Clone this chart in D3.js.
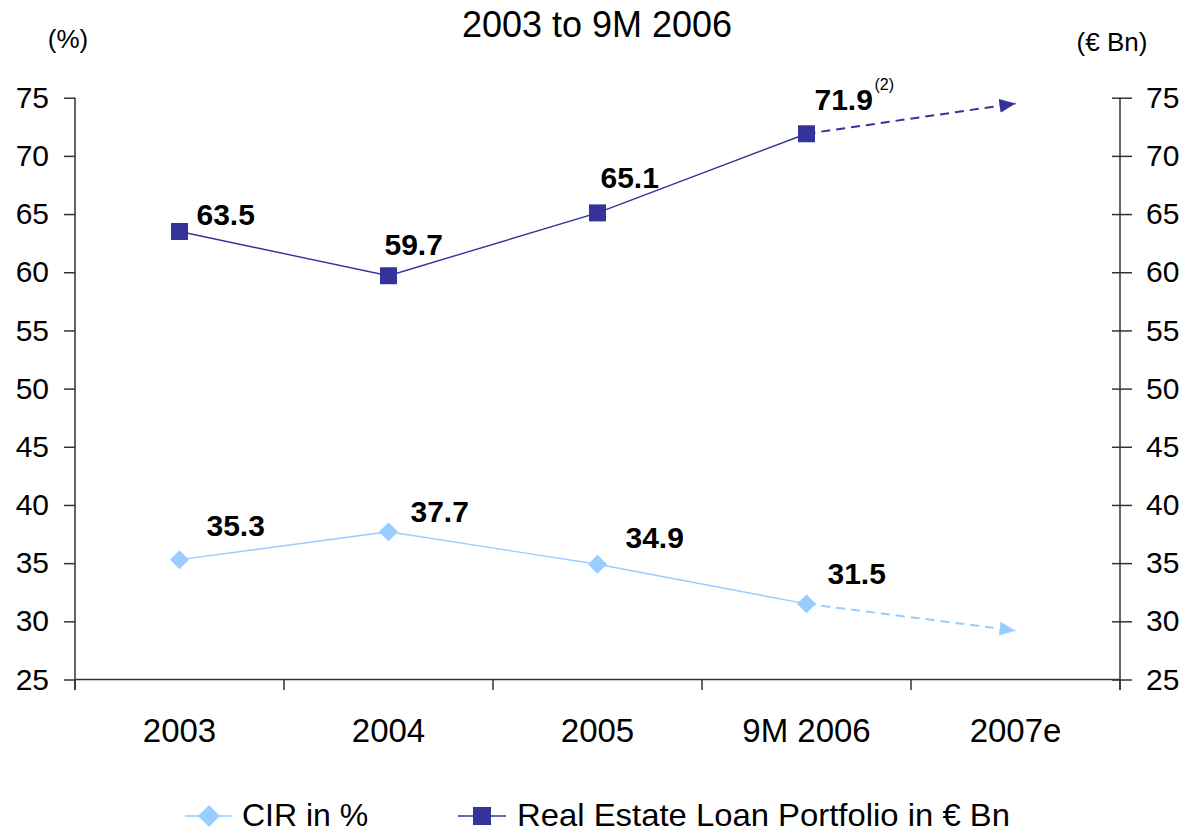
<!DOCTYPE html>
<html>
<head>
<meta charset="utf-8">
<script src="https://cdn.jsdelivr.net/npm/d3@7"></script>
<style>
  html, body { margin: 0; padding: 0; background: #fff; }
  svg { display: block; font-family: "Liberation Sans", Arial, sans-serif; }
</style>
</head>
<body>
<svg id="chart" width="1186" height="834"></svg>
<script>
// Categories along the x axis
const categories = ["2003", "2004", "2005", "9M 2006", "2007e"];
// Cost/income ratio (%), actuals
const cirValues = [35.3, 37.7, 34.9, 31.5];
// Real estate loan portfolio (EUR Bn), actuals
const loanValues = [63.5, 59.7, 65.1, 71.9];
// Outlook for 2007e (dashed arrows)
const cirOutlook = 29.2;
const loanOutlook = 74.5;
// Shared y tick values for both axes
const yTicks = [25, 30, 35, 40, 45, 50, 55, 60, 65, 70, 75];

const DARK = "#333399";
const LIGHT = "#99CCFF";
const AXIS = "#333333";

const svg = d3.select("#chart");

const x = d3.scaleBand().domain(categories).range([75, 1120]).paddingInner(0).paddingOuter(0);
const cx = c => x(c) + x.bandwidth() / 2;
const y = d3.scaleLinear().domain([25, 75]).range([679.5, 97.7]);

// Arrowheads
const defs = svg.append("defs");
[["arrowDark", DARK], ["arrowLight", LIGHT]].forEach(([id, col]) => {
  defs.append("marker")
    .attr("id", id)
    .attr("markerUnits", "userSpaceOnUse")
    .attr("viewBox", "0 0 16 14")
    .attr("refX", 16).attr("refY", 7)
    .attr("markerWidth", 16).attr("markerHeight", 14)
    .attr("orient", "auto")
    .append("path")
    .attr("d", "M0,0 L16,7 L0,14 Z")
    .attr("fill", col);
});

// Title and axis unit captions
svg.append("text").attr("x", 597).attr("y", 37).attr("text-anchor", "middle")
  .attr("font-size", 36).text("2003 to 9M 2006");
svg.append("text").attr("x", 68).attr("y", 48).attr("text-anchor", "middle")
  .attr("font-size", 26).text("(%)");
svg.append("text").attr("x", 1112).attr("y", 51).attr("text-anchor", "middle")
  .attr("font-size", 26).text("(€ Bn)");

// Left y axis
const leftAxis = svg.append("g").attr("transform", "translate(75,0)")
  .call(d3.axisLeft(y).tickValues(yTicks).tickSize(11).tickPadding(15));
// Right y axis (ticks cross the line)
const rightAxis = svg.append("g").attr("transform", "translate(1120,0)")
  .call(d3.axisRight(y).tickValues(yTicks).tickSize(12).tickPadding(14));
rightAxis.selectAll(".tick line").attr("x1", -8).attr("x2", 12);

[leftAxis, rightAxis].forEach(g => {
  g.select(".domain").attr("stroke", AXIS).attr("stroke-width", 1.5);
  g.selectAll(".tick line").attr("stroke", AXIS).attr("stroke-width", 1.5);
  g.selectAll(".tick text").attr("font-size", 30).attr("fill", "#000")
    .attr("font-family", "Liberation Sans, Arial, sans-serif");
});
leftAxis.select(".domain").attr("d", "M0,97.7V690");
rightAxis.select(".domain").attr("d", "M0,97.7V690");

// Bottom x axis: labels centred in bands, ticks at band boundaries
const bottomAxis = svg.append("g").attr("transform", `translate(0,${y(25)})`)
  .call(d3.axisBottom(x).tickSize(0).tickPadding(38.6));
bottomAxis.select(".domain").attr("stroke", AXIS).attr("stroke-width", 1.5)
  .attr("d", `M${x.range()[0]},0H${x.range()[1]}`);
bottomAxis.selectAll(".tick text").attr("font-size", 33).attr("fill", "#000")
  .attr("font-family", "Liberation Sans, Arial, sans-serif");
const bounds = d3.range(categories.length + 1).map(i => x.range()[0] + i * x.step());
bottomAxis.selectAll("line.bound").data(bounds).join("line")
  .attr("class", "bound")
  .attr("x1", d => d).attr("x2", d => d)
  .attr("y1", 0).attr("y2", 10.5)
  .attr("stroke", AXIS).attr("stroke-width", 1.5);

const actualCats = categories.slice(0, 4);
const line = d3.line().x(d => cx(d.c)).y(d => y(d.v));

function drawSeries(values, outlook, color, markerId, dash, shape, labelOffsets) {
  const pts = values.map((v, i) => ({ c: actualCats[i], v }));
  const last = pts[pts.length - 1];
  // dashed outlook arrow
  svg.append("path")
    .attr("d", line([last, { c: categories[4], v: outlook }]))
    .attr("fill", "none").attr("stroke", color).attr("stroke-width", 2)
    .attr("stroke-dasharray", dash)
    .attr("marker-end", `url(#${markerId})`);
  // solid line
  svg.append("path").attr("d", line(pts))
    .attr("fill", "none").attr("stroke", color).attr("stroke-width", 1.4);
  // markers
  svg.selectAll(null).data(pts).join("path")
    .attr("transform", d => `translate(${cx(d.c)},${y(d.v)})` + (shape === "diamond" ? " rotate(45)" : ""))
    .attr("d", shape === "diamond" ? d3.symbol(d3.symbolSquare, 180)() : d3.symbol(d3.symbolSquare, 289)())
    .attr("fill", color);
  // value labels
  svg.selectAll(null).data(pts).join("text")
    .attr("x", (d, i) => cx(d.c) + labelOffsets[i][0])
    .attr("y", (d, i) => y(d.v) + labelOffsets[i][1])
    .attr("font-size", 30).attr("font-weight", "bold").attr("fill", "#000")
    .text(d => d.v.toFixed(1));
  return pts;
}

drawSeries(cirValues, cirOutlook, LIGHT, "arrowLight", "9,6", "diamond",
  [[27, -24], [22, -10], [28, -16], [21, -20]]);
const loanPts = drawSeries(loanValues, loanOutlook, DARK, "arrowDark", "9,6", "square",
  [[17, -7], [-4, -21], [3, -25], [8, -24]]);

// footnote marker on the latest portfolio value
const lp = loanPts[loanPts.length - 1];
svg.append("text")
  .attr("x", cx(lp.c) + 68).attr("y", y(lp.v) - 44)
  .attr("font-size", 16).attr("fill", "#000").text("(2)");

// Legend
const legend = svg.append("g");
const lgY = 816;
const lgBase = 826;
legend.append("line").attr("x1", 185).attr("x2", 232).attr("y1", lgY).attr("y2", lgY)
  .attr("stroke", LIGHT).attr("stroke-width", 1.5);
legend.append("path").attr("transform", `translate(209,${lgY}) rotate(45)`)
  .attr("d", d3.symbol(d3.symbolSquare, 240)()).attr("fill", LIGHT);
legend.append("text").attr("x", 242).attr("y", lgBase).attr("font-size", 32).text("CIR in %");

legend.append("line").attr("x1", 458).attr("x2", 506).attr("y1", lgY).attr("y2", lgY)
  .attr("stroke", DARK).attr("stroke-width", 1.5);
legend.append("path").attr("transform", `translate(482,${lgY})`)
  .attr("d", d3.symbol(d3.symbolSquare, 324)()).attr("fill", DARK);
legend.append("text").attr("x", 517).attr("y", lgBase).attr("font-size", 32)
  .attr("textLength", 493).attr("lengthAdjust", "spacingAndGlyphs")
  .text("Real Estate Loan Portfolio in € Bn");
</script>
</body>
</html>
